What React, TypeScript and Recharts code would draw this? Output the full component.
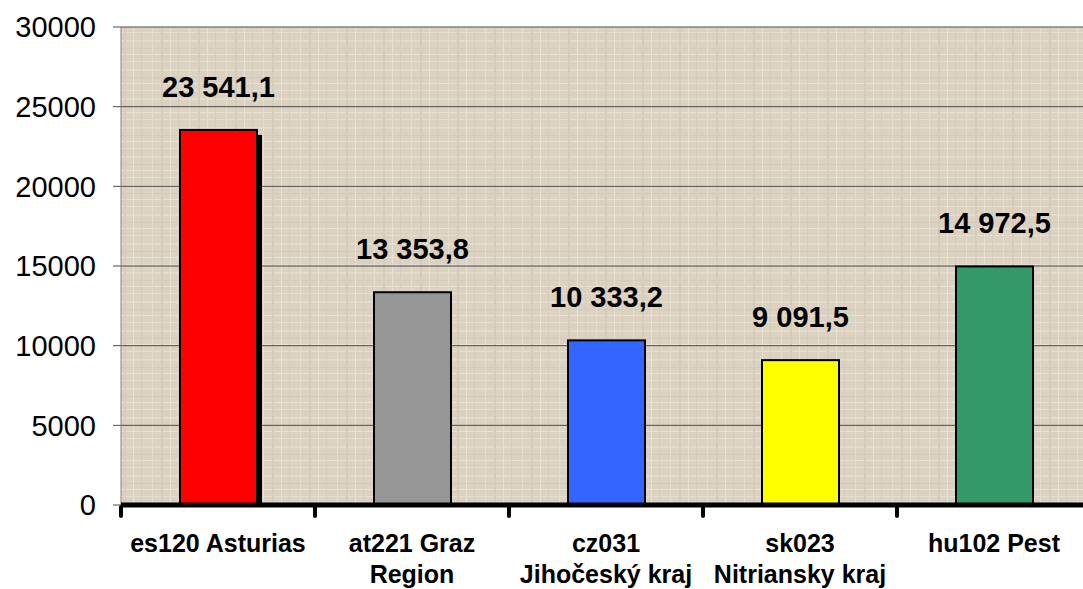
import * as React from 'react';
import {
  BarChart,
  Bar,
  XAxis,
  YAxis,
  CartesianGrid,
  LabelList,
  Cell,
} from 'recharts';

// data
const regions = [
  'es120 Asturias',
  'at221 Graz\nRegion',
  'cz031\nJihočeský kraj',
  'sk023\nNitriansky kraj',
  'hu102 Pest',
];
const values = [23541.1, 13353.8, 10333.2, 9091.5, 14972.5];
const barColors = ['#ff0000', '#969696', '#3366ff', '#ffff00', '#339966'];
const yTicks = [0, 5000, 10000, 15000, 20000, 25000, 30000];

const data = regions.map((name, i) => ({ name, value: values[i] }));

const CHART_W = 1100;
const CHART_H = 589;
const MARGIN = { top: 27, right: 9, left: 0, bottom: 0 };
const Y_W = 121;
const X_H = 84;
const FONT = 'Arial, "Liberation Sans", sans-serif';

function formatValue(v: number): string {
  const [int, dec] = v.toFixed(1).split('.');
  return int.replace(/\B(?=(\d{3})+(?!\d))/g, ' ') + ',' + dec;
}

function XTick(props: any) {
  const { x, y, payload } = props;
  const band = (CHART_W - MARGIN.left - MARGIN.right - Y_W) / regions.length;
  const lines = String(payload.value).split('\n');
  return (
    <g>
      <line
        x1={x - band / 2}
        x2={x - band / 2}
        y1={y - 6}
        y2={y + 3}
        stroke="#000"
        strokeWidth={4}
        strokeLinecap="round"
      />
      {lines.map((l, i) => (
        <text
          key={i}
          x={x}
          y={y + 39 + i * 31}
          textAnchor="middle"
          fontFamily={FONT}
          fontWeight="bold"
          fontSize={25}
          fill="#000"
        >
          {l}
        </text>
      ))}
    </g>
  );
}

function BarShape(props: any) {
  const { x, y, width, height, fill, index } = props;
  return (
    <g>
      {index === 0 && (
        <rect x={x + 5} y={y + 5} width={width} height={height - 5} fill="#000" />
      )}
      <rect x={x} y={y} width={width} height={height} fill={fill} stroke="#000" strokeWidth={2} />
    </g>
  );
}

export default function App() {
  return (
    <div
      style={{
        position: 'absolute',
        left: 0,
        top: 0,
        width: 1083,
        height: 589,
        overflow: 'hidden',
        background: '#fff',
      }}
    >
      <svg width={0} height={0} style={{ position: 'absolute' }}>
        <defs>
          <pattern id="linen" width="37" height="29" patternUnits="userSpaceOnUse">
            <rect width="37" height="29" fill="#dbd2c1" />
            <rect x="0" y="3" width="37" height="1" fill="#e6dfd1" />
            <rect x="0" y="11" width="37" height="2" fill="#e3dccd" />
            <rect x="0" y="19" width="37" height="1" fill="#d4cbba" />
            <rect x="0" y="25" width="37" height="1" fill="#e8e1d4" />
            <rect x="4" y="0" width="1" height="29" fill="#e5ded0" />
            <rect x="13" y="0" width="2" height="29" fill="#d5ccbb" />
            <rect x="22" y="0" width="1" height="29" fill="#e7e0d3" />
            <rect x="30" y="0" width="1" height="29" fill="#d6cdbc" />
          </pattern>
        </defs>
      </svg>
      <BarChart
        width={CHART_W}
        height={CHART_H}
        data={data}
        margin={MARGIN}
        barCategoryGap="20%"
      >
        <CartesianGrid
          vertical={false}
          stroke="#4d4d4d"
          strokeWidth={1}
          fill="url(#linen)"
        />
        <YAxis
          width={Y_W}
          domain={[0, 30000]}
          ticks={yTicks}
          interval={0}
          tickSize={8}
          tickMargin={17}
          axisLine={{ stroke: '#808080', strokeWidth: 1 }}
          tickLine={{ stroke: '#4d4d4d' }}
          tick={{ fontSize: 29, fill: '#000', fontFamily: FONT }}
        />
        <XAxis
          dataKey="name"
          height={X_H}
          interval={0}
          axisLine={{ stroke: '#000', strokeWidth: 5 }}
          tickLine={false}
          tick={<XTick />}
        />
        <Bar dataKey="value" shape={<BarShape />} isAnimationActive={false} barSize={77}>
          {data.map((d, i) => (
            <Cell key={d.name} fill={barColors[i]} />
          ))}
          <LabelList
            dataKey="value"
            position="top"
            offset={33}
            formatter={(v: any) => formatValue(Number(v))}
            style={{ fontSize: 29, fontWeight: 'bold', fill: '#000', fontFamily: FONT }}
          />
        </Bar>
      </BarChart>
    </div>
  );
}
